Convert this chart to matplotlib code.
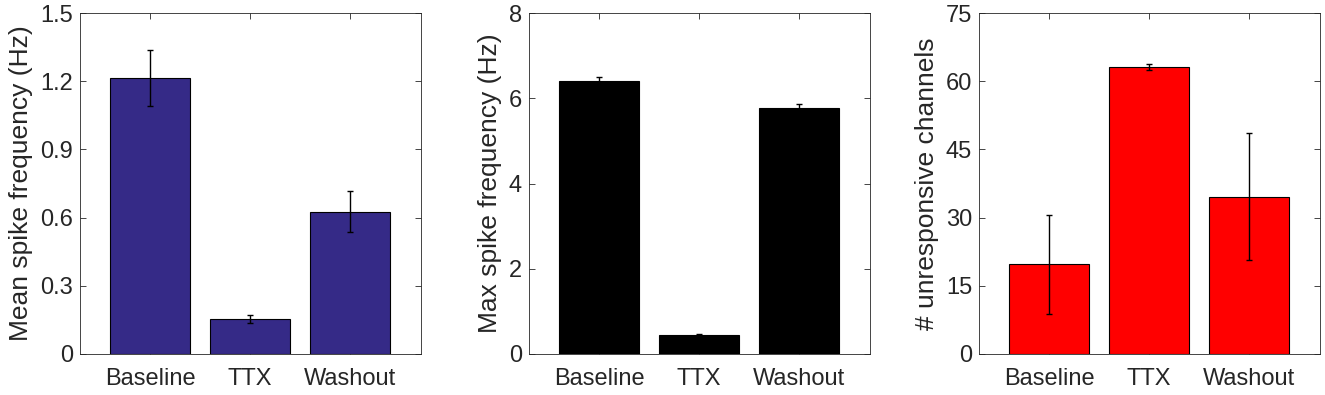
import matplotlib
matplotlib.use("Agg")
import matplotlib.pyplot as plt
import numpy as np

categories = ["Baseline", "TTX", "Washout"]

mean_freq = [1.214, 0.153, 0.625]
mean_freq_err = [0.123, 0.017, 0.090]

max_freq = [6.40, 0.44, 5.77]
max_freq_err = [0.11, 0.02, 0.09]

unresp = [19.7, 63.05, 34.6]
unresp_err = [10.8, 0.65, 13.9]

panels = [
    dict(vals=mean_freq, err=mean_freq_err, color="#352A87",
         ylabel="Mean spike frequency (Hz)", ylim=(0, 1.5),
         yticks=[0, 0.3, 0.6, 0.9, 1.2, 1.5],
         yticklabels=["0", "0.3", "0.6", "0.9", "1.2", "1.5"]),
    dict(vals=max_freq, err=max_freq_err, color="#000000",
         ylabel="Max spike frequency (Hz)", ylim=(0, 8),
         yticks=[0, 2, 4, 6, 8],
         yticklabels=["0", "2", "4", "6", "8"]),
    dict(vals=unresp, err=unresp_err, color="#FF0000",
         ylabel="# unresponsive channels", ylim=(0, 75),
         yticks=[0, 15, 30, 45, 60, 75],
         yticklabels=["0", "15", "30", "45", "60", "75"]),
]

plt.rcParams["font.family"] = ["Liberation Sans", "DejaVu Sans"]
txt = "#262626"

fig = plt.figure(figsize=(13.25, 3.95), dpi=100)
lefts = [80 / 1325, 529 / 1325, 979 / 1325]
W = 341 / 1325
B = 41 / 395
H = 341 / 395

x = np.arange(1, 4)
for left, p in zip(lefts, panels):
    ax = fig.add_axes([left, B, W, H])
    ax.bar(x, p["vals"], width=0.8, color=p["color"], edgecolor="black",
           linewidth=0.8, zorder=2)
    ax.errorbar(x, p["vals"], yerr=p["err"], fmt="none", ecolor="black",
                elinewidth=1.0, capsize=2, capthick=1.0, zorder=3)
    ax.set_xlim(0.3, 3.71)
    ax.set_ylim(*p["ylim"])
    ax.set_xticks(x)
    ax.set_xticklabels(categories)
    ax.set_yticks(p["yticks"])
    ax.set_yticklabels(p["yticklabels"])
    ax.tick_params(direction="in", length=4, width=0.6, top=True, right=True,
                   labelsize=17, colors="#262626", labelcolor=txt, pad=5)
    ax.tick_params(axis="x", pad=10)
    for s in ax.spines.values():
        s.set_linewidth(0.6)
        s.set_color("#262626")
    ax.set_ylabel(p["ylabel"], fontsize=19, color=txt, labelpad=5)

fig.savefig("out.png", dpi=100)
